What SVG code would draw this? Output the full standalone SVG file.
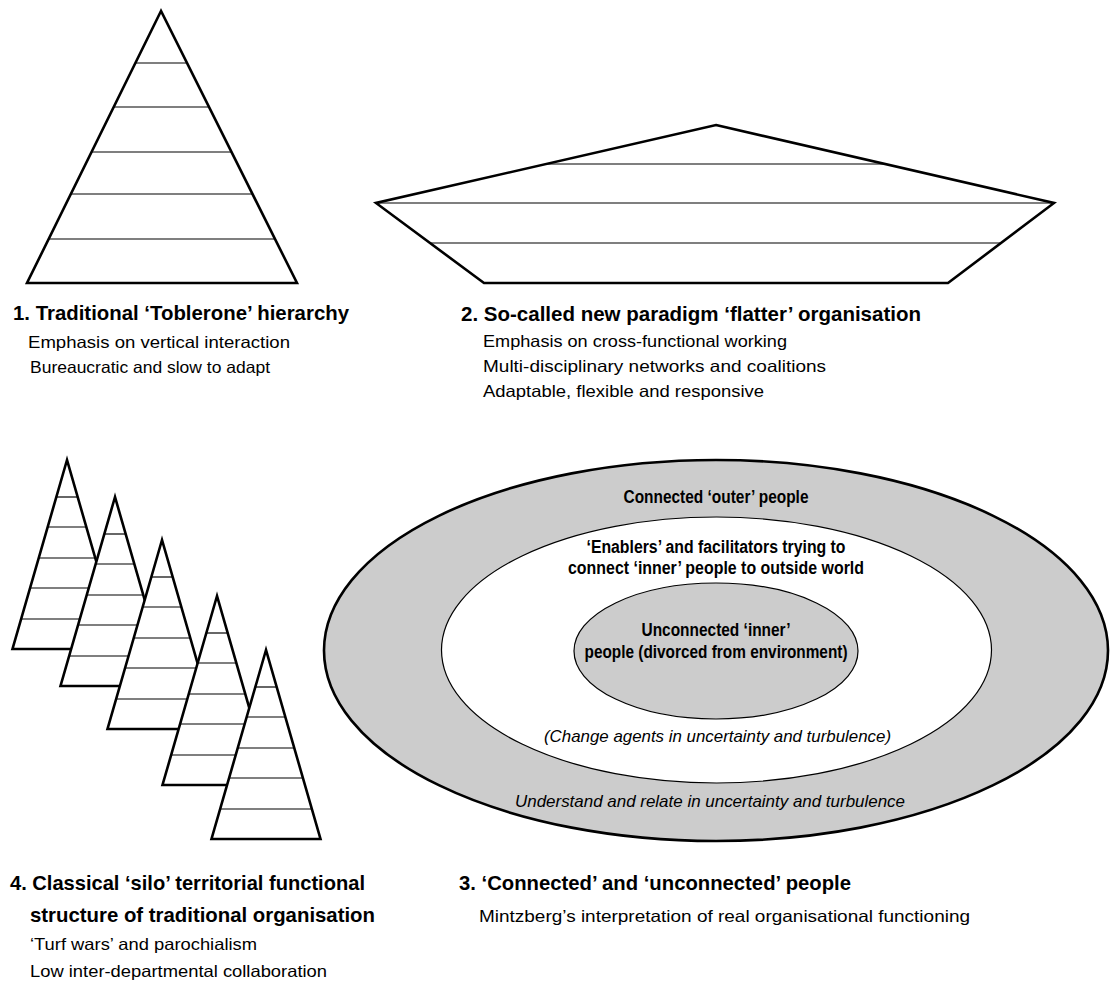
<svg xmlns="http://www.w3.org/2000/svg" xmlns:xlink="http://www.w3.org/1999/xlink" width="1110" height="983" viewBox="0 0 1110 983">
<style>
  .outline { fill: #ffffff; stroke: #000000; stroke-width: 2.6; stroke-linejoin: miter; }
  .tier { stroke: #000000; stroke-width: 1.2; fill: none; }
  .head { font-family: "Liberation Sans", Arial, sans-serif; font-weight: bold; font-size: 21px; fill: #000000; }
  .sub { font-family: "Liberation Sans", Arial, sans-serif; font-size: 16.5px; fill: #000000; }
  .lbl { font-family: "Liberation Sans", Arial, sans-serif; font-weight: bold; font-size: 17.5px; fill: #000000; text-anchor: middle; }
  .ital { font-family: "Liberation Sans", Arial, sans-serif; font-style: italic; font-size: 17px; fill: #000000; text-anchor: middle; }
</style>
<defs>
  <g id="silo">
    <polygon class="outline" points="0,0 -54.5,189 54.5,189"/>
    <line class="tier" x1="-10.7" y1="37" x2="10.7" y2="37"/>
    <line class="tier" x1="-19.3" y1="67" x2="19.3" y2="67"/>
    <line class="tier" x1="-28.3" y1="98" x2="28.3" y2="98"/>
    <line class="tier" x1="-36.9" y1="128" x2="36.9" y2="128"/>
    <line class="tier" x1="-45.8" y1="159" x2="45.8" y2="159"/>
  </g>
</defs>
<rect x="0" y="0" width="1110" height="983" fill="#ffffff"/>

<g id="hierarchy">
  <polygon class="outline" points="161,11 27,283 297,283"/>
  <line class="tier" x1="135.4" y1="63" x2="187" y2="63"/>
  <line class="tier" x1="113.7" y1="107" x2="209" y2="107"/>
  <line class="tier" x1="91.5" y1="152" x2="231.5" y2="152"/>
  <line class="tier" x1="70.8" y1="194" x2="252.5" y2="194"/>
  <line class="tier" x1="48.7" y1="239" x2="275" y2="239"/>
  <text class="head" x="13" y="320" textLength="336" lengthAdjust="spacingAndGlyphs">1. Traditional ‘Toblerone’ hierarchy</text>
  <text class="sub" x="28" y="348" textLength="262" lengthAdjust="spacingAndGlyphs">Emphasis on vertical interaction</text>
  <text class="sub" x="30" y="373" textLength="240" lengthAdjust="spacingAndGlyphs">Bureaucratic and slow to adapt</text>
</g>

<g id="flatter">
  <polygon class="outline" points="716,125 1054,203 948,283 484,283 376,203"/>
  <line class="tier" x1="545" y1="164" x2="885" y2="164"/>
  <line class="tier" x1="376" y1="203" x2="1054" y2="203"/>
  <line class="tier" x1="431" y1="243" x2="1001" y2="243"/>
  <text class="head" x="461" y="321" textLength="460" lengthAdjust="spacingAndGlyphs">2. So-called new paradigm ‘flatter’ organisation</text>
  <text class="sub" x="483" y="347" textLength="304" lengthAdjust="spacingAndGlyphs">Emphasis on cross-functional working</text>
  <text class="sub" x="483" y="372" textLength="343" lengthAdjust="spacingAndGlyphs">Multi-disciplinary networks and coalitions</text>
  <text class="sub" x="483" y="397" textLength="281" lengthAdjust="spacingAndGlyphs">Adaptable, flexible and responsive</text>
</g>

<g id="silos">
  <use xlink:href="#silo" href="#silo" x="67" y="460"/>
  <use xlink:href="#silo" href="#silo" x="115" y="497"/>
  <use xlink:href="#silo" href="#silo" x="162" y="540"/>
  <use xlink:href="#silo" href="#silo" x="217" y="596"/>
  <use xlink:href="#silo" href="#silo" x="266" y="650"/>
  <text class="head" x="10" y="890" textLength="355" lengthAdjust="spacingAndGlyphs">4. Classical ‘silo’ territorial functional</text>
  <text class="head" x="30" y="922" textLength="345" lengthAdjust="spacingAndGlyphs">structure of traditional organisation</text>
  <text class="sub" x="30" y="950" textLength="227" lengthAdjust="spacingAndGlyphs">‘Turf wars’ and parochialism</text>
  <text class="sub" x="30" y="977" textLength="297" lengthAdjust="spacingAndGlyphs">Low inter-departmental collaboration</text>
</g>

<g id="connected">
  <ellipse cx="716" cy="650.5" rx="392" ry="190.5" fill="#cccccc" stroke="#000000" stroke-width="2.6"/>
  <ellipse cx="716.5" cy="650" rx="275" ry="133" fill="#ffffff" stroke="#000000" stroke-width="1.2"/>
  <ellipse cx="716" cy="651" rx="142" ry="68" fill="#cccccc" stroke="#000000" stroke-width="1.2"/>
  <text class="lbl" x="716" y="503" textLength="185" lengthAdjust="spacingAndGlyphs">Connected ‘outer’ people</text>
  <text class="lbl" x="716" y="553" textLength="259" lengthAdjust="spacingAndGlyphs">‘Enablers’ and facilitators trying to</text>
  <text class="lbl" x="716" y="574" textLength="296" lengthAdjust="spacingAndGlyphs">connect ‘inner’ people to outside world</text>
  <text class="lbl" x="716" y="636" textLength="149" lengthAdjust="spacingAndGlyphs">Unconnected ‘inner’</text>
  <text class="lbl" x="716" y="658" textLength="263" lengthAdjust="spacingAndGlyphs">people (divorced from environment)</text>
  <text class="ital" x="717.5" y="742" textLength="347" lengthAdjust="spacingAndGlyphs">(Change agents in uncertainty and turbulence)</text>
  <text class="ital" x="710" y="807" textLength="390" lengthAdjust="spacingAndGlyphs">Understand and relate in uncertainty and turbulence</text>
  <text class="head" x="459" y="890" textLength="392" lengthAdjust="spacingAndGlyphs">3. ‘Connected’ and ‘unconnected’ people</text>
  <text class="sub" x="479" y="922" textLength="491" lengthAdjust="spacingAndGlyphs">Mintzberg’s interpretation of real organisational functioning</text>
</g>

<g id="connectors"></g>
</svg>
